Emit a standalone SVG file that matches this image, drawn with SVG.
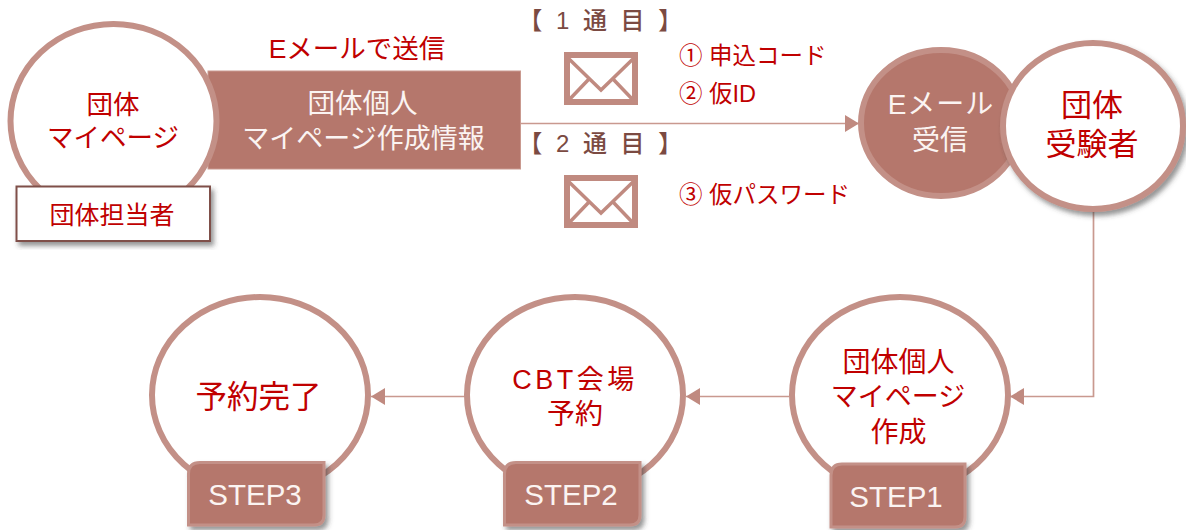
<svg xmlns="http://www.w3.org/2000/svg" width="1186" height="530" viewBox="0 0 1186 530">
<style>
text{font-family:"Liberation Sans","Noto Sans CJK JP",sans-serif;text-anchor:middle}
.red{fill:#c00000}
.wh{fill:#fbf4f2}
.hd{fill:#7b4a42;font-size:24px;font-weight:500;letter-spacing:3.500px}
.li{fill:#c00000;font-size:23.500px;text-anchor:start}
.ring{fill:#fff;stroke:#c39087;stroke-width:6}
.step{fill:#b5776c;stroke:#c39087;stroke-width:3}
.stept{font-size:29.500px}
.conn{fill:none;stroke:#c9998f;stroke-width:1.7}
.env{fill:#fff;stroke:#c08a80;stroke-width:6}
.envl{fill:none;stroke:#c08a80;stroke-width:3.5}
</style>
<defs>
<marker id="arr" markerUnits="userSpaceOnUse" markerWidth="15" markerHeight="18" refX="14" refY="8.5" orient="auto"><path d="M0 0L14 8.5L0 17Z" fill="#c08a80"/></marker>
<filter id="sh" x="-10%" y="-10%" width="125%" height="125%"><feDropShadow dx="3" dy="4" stdDeviation="2.5" flood-color="#3c3c3c" flood-opacity=".55"/></filter>
</defs>
<g id="connectors">
<path class="conn" d="M520 123.500H859" marker-end="url(#arr)"/>
<path class="conn" d="M1093.500 208V396.500H1010" marker-end="url(#arr)"/>
<path class="conn" d="M789 396.500H686" marker-end="url(#arr)"/>
<path class="conn" d="M466 396.500H371" marker-end="url(#arr)"/>
</g>
<g id="info">
<rect x="208" y="71" width="312.500" height="98" fill="#b5776c" stroke="#c9998f" stroke-width="1"/>
<text class="wh" font-size="27.500" x="362.500" y="113">団体個人</text>
<text class="wh" font-size="27" x="363.500" y="148">マイページ作成情報</text>
</g>
<g id="mypage">
<ellipse class="ring" cx="113.500" cy="121" rx="103" ry="97"/>
<text class="red" font-size="26.500" x="113" y="114">団体</text>
<text class="red" font-size="26.500" x="113" y="147">マイページ</text>
</g>
<g id="tantou">
<rect x="16.500" y="186.500" width="193.500" height="54.500" fill="#fff" stroke="#7f4f48" stroke-width="2" filter="url(#sh)"/>
<text class="red" font-size="25" x="112" y="224">団体担当者</text>
</g>
<text class="red" font-size="26.500" x="357" y="58">Eメールで送信</text>
<g id="mail1">
<text class="hd" x="602" y="29" xml:space="preserve">【 1 通 目 】</text>
<rect class="env" x="567" y="55" width="68" height="47"/>
<path class="envl" d="M567 57L601 90L635 57M567 102L589 79M635 102L613 79"/>
<text class="li" x="679" y="64">① 申込コード</text>
<text class="li" x="679" y="102">② 仮ID</text>
</g>
<g id="mail2">
<text class="hd" x="602" y="152" xml:space="preserve">【 2 通 目 】</text>
<rect class="env" x="567" y="178" width="68" height="47"/>
<path class="envl" d="M567 180L601 213L635 180M567 225L589 202M635 225L613 202"/>
<text class="li" x="679" y="203">③ 仮パスワード</text>
</g>
<g id="receive">
<ellipse cx="941" cy="123" rx="80" ry="73" fill="#b5776c" stroke="#c39087" stroke-width="6"/>
<text class="wh" font-size="28" letter-spacing="1" x="941" y="114">Eメール</text>
<text class="wh" font-size="28" x="940" y="150">受信</text>
</g>
<g id="examinee">
<ellipse class="ring" cx="1093" cy="126" rx="90" ry="83" filter="url(#sh)"/>
<text class="red" font-size="31" x="1092" y="116">団体</text>
<text class="red" font-size="31" x="1092" y="155">受験者</text>
</g>
<g id="step3">
<ellipse class="ring" cx="260" cy="395" rx="108" ry="98"/>
<text class="red" font-size="31.500" x="258.500" y="408">予約完了</text>
<path class="step" d="M200 462.500H324V515Q324 525 314 525H188.500V474Q188.500 462.500 200 462.500Z" filter="url(#sh)"/>
<text class="wh stept" x="255" y="505">STEP3</text>
</g>
<g id="step2">
<ellipse class="ring" cx="575" cy="395" rx="108" ry="98"/>
<text class="red" font-size="27" x="575" y="389" letter-spacing="3.500">CBT会場</text>
<text class="red" font-size="28" x="575" y="424">予約</text>
<path class="step" d="M516 462.500H640V515Q640 525 630 525H504.500V474Q504.500 462.500 516 462.500Z" filter="url(#sh)"/>
<text class="wh stept" x="571" y="505">STEP2</text>
</g>
<g id="step1">
<ellipse class="ring" cx="900" cy="395" rx="108" ry="98"/>
<text class="red" font-size="28" x="898.500" y="372">団体個人</text>
<text class="red" font-size="27" x="898" y="406">マイページ</text>
<text class="red" font-size="28" x="898.500" y="442">作成</text>
<path class="step" d="M842 464H965V517Q965 527 955 527H831V475.500Q831 464 842 464Z" filter="url(#sh)"/>
<text class="wh stept" x="896" y="507">STEP1</text>
</g>
</svg>
